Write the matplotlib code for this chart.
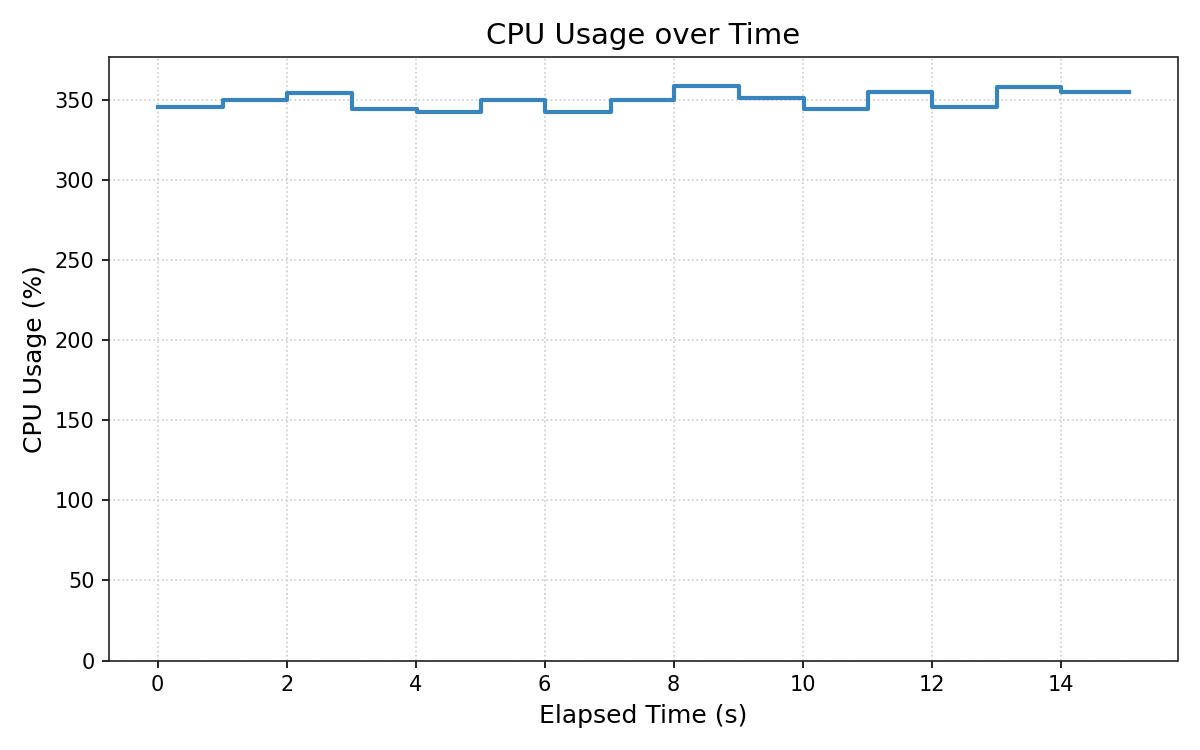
import matplotlib
matplotlib.use("Agg")
import matplotlib.pyplot as plt

# sample timestamps (s) and cpu usage (%)
elapsed = [0.0, 1.01, 2.01, 3.01, 4.02, 5.02, 6.01, 7.03, 8.0, 9.02,
           10.02, 11.01, 12.0, 13.02, 14.0, 15.06]
cpu = [345.6, 349.6, 354.2, 344.3, 342.3, 350.0, 342.3, 350.0, 358.6, 351.1,
       344.3, 354.8, 345.6, 358.1, 354.6, 354.6]

fig, ax = plt.subplots(figsize=(8, 5), dpi=150)
ax.step(elapsed, cpu, where='post', color='#3784bf', linewidth=2.0)

ax.set_ylim(0, max(cpu) * 1.05)
ax.set_title('CPU Usage over Time', fontsize=14)
ax.set_xlabel('Elapsed Time (s)', fontsize=12)
ax.set_ylabel('CPU Usage (%)', fontsize=12)
ax.tick_params(labelsize=10)
ax.grid(True, linestyle=':', color='#cccccc', linewidth=0.8)
for s in ax.spines.values():
    s.set_color('#222222')

fig.tight_layout()
fig.savefig('out.png')
